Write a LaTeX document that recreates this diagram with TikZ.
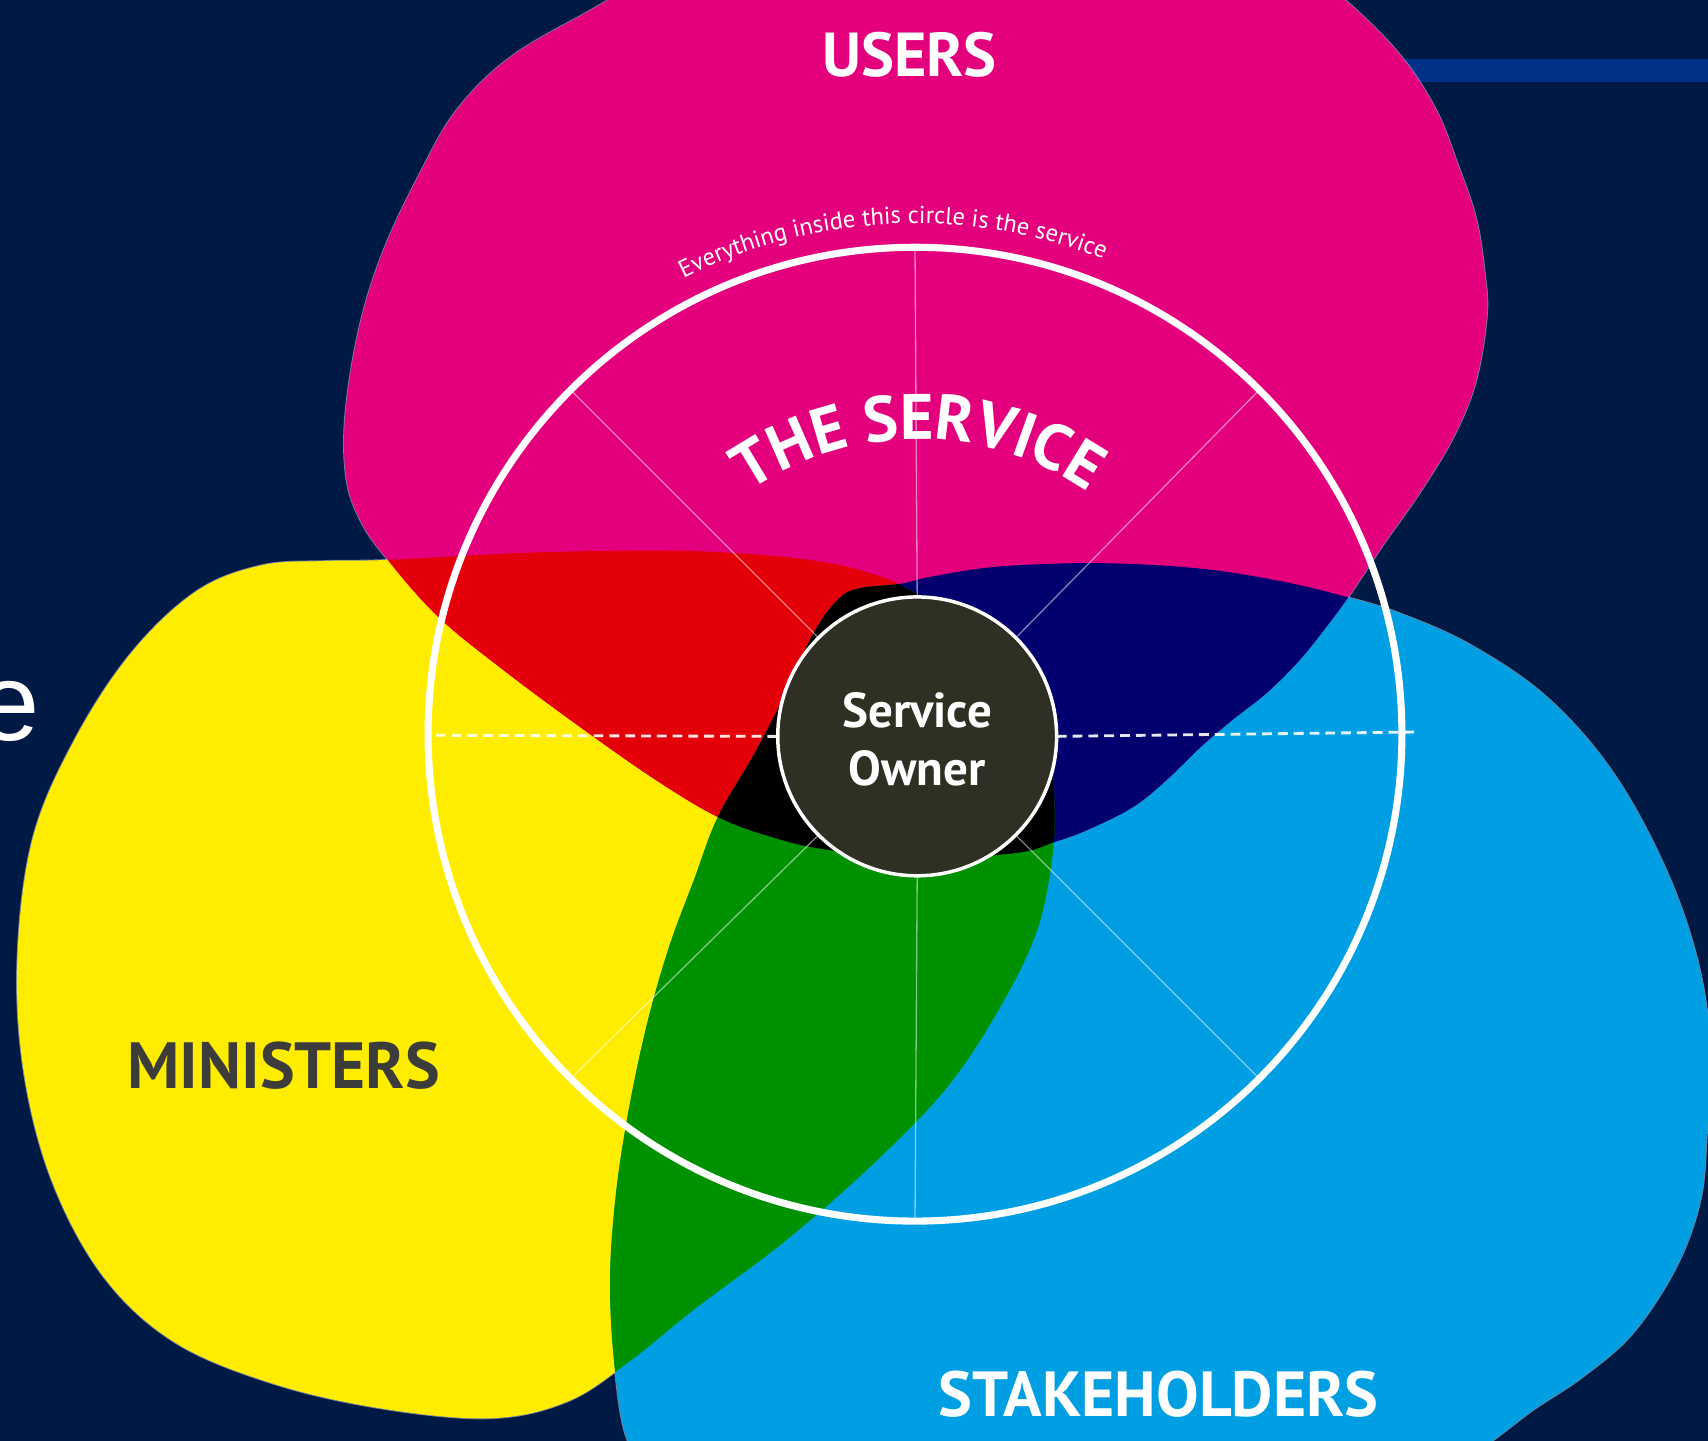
\documentclass[tikz,border=0pt]{standalone}
\usepackage{fontspec}
\usetikzlibrary{decorations.text}
\newfontfamily\ptsans{PT Sans}
\newfontfamily\arialf{Liberation Sans}
\definecolor{bgc}{HTML}{011A45}
\definecolor{barc}{HTML}{003087}
\definecolor{pinkc}{HTML}{E4007D}
\definecolor{yellowc}{HTML}{FFED00}
\definecolor{bluec}{HTML}{009FE3}
\definecolor{redc}{HTML}{E30008}
\definecolor{navyc}{HTML}{02006E}
\definecolor{greenc}{HTML}{009100}
\definecolor{blackc}{HTML}{000000}
\definecolor{ownerc}{HTML}{302F24}
\definecolor{grayc}{HTML}{3C3C3B}
\tikzset{
  blobY/.style={insert path={plot[smooth cycle, tension=0.6] coordinates {
    (300,-515) (356,-514) (497,-507) (637,-506) (743,-514) (805,-528) (838,-543)
    (880,-565) (935,-610) (962,-680) (968,-740) (965,-795) (950,-860) (915,-930)
    (868,-1000) (800,-1070) (720,-1140) (640,-1200) (575,-1252) (520,-1287)
    (450,-1302) (350,-1293) (250,-1270) (160,-1232) (95,-1172) (48,-1085)
    (22,-985) (16,-880) (30,-770) (68,-680) (120,-600) (180,-543) (240,-519)}}},
  blobP/.style={insert path={plot[smooth cycle, tension=0.6] coordinates {
    (900,75) (640,55) (558,0) (472,-50) (420,-100) (385,-160) (352,-230)
    (330,-300) (317,-380) (318,-440) (332,-480)
    (356,-514) (402,-566) (462,-615) (532,-667) (602,-716) (659,-750) (707,-768)
    (759,-780) (845,-788) (933,-783) (968,-773) (998,-762) (1040,-741)
    (1071,-716) (1102,-686) (1130,-662) (1163,-636) (1193,-606) (1218,-575)
    (1240,-545) (1270,-500) (1305,-450) (1335,-400) (1355,-350) (1365,-290)
    (1363,-250) (1355,-200) (1338,-150) (1318,-100) (1285,-50) (1235,0) (1170,50)}}},
  blobB/.style={insert path={plot[smooth cycle, tension=0.6] coordinates {
    (785,-541) (826,-536) (857,-529) (918,-520) (1010,-517) (1102,-522)
    (1178,-534) (1236,-548) (1285,-563) (1350,-592) (1420,-640) (1480,-708)
    (1528,-795) (1558,-880) (1570,-960) (1567,-1040) (1561,-1102) (1539,-1163)
    (1499,-1224) (1453,-1264) (1408,-1294) (1371,-1322) (1330,-1350)
    (900,-1370) (600,-1350) (576,-1322) (565,-1262) (560,-1180) (565,-1100)
    (577,-1020) (594,-940) (614,-870) (637,-808) (659,-750) (692,-693)
    (717,-645) (745,-585) (765,-555)}}},
  rim/.style={draw=white, draw opacity=0.45, line width=1.6pt},
  radial/.style={draw=white, draw opacity=0.5, line width=1.2pt},
  dashline/.style={draw=white, draw opacity=0.9, line width=2.6pt, dash pattern=on 9pt off 5.5pt},
  label/.style={inner sep=0pt, anchor=base, font=\ptsans\bfseries\fontsize{#1}{#1}\selectfont},
}
\begin{document}
\begin{tikzpicture}[x=1pt,y=1pt]
\useasboundingbox (0,0) rectangle (1568,-1322);
\fill[bgc] (-5,5) rectangle (1573,-1327);
\fill[barc] (1280,-54) rectangle (1573,-75);
\node[anchor=base west, inner sep=0pt, text=white, font=\arialf\fontsize{101}{110}\selectfont] (ee) at (-20,-679.5) {e};
% thin light rims (only the outer half stays visible)
\path[rim, blobY];
\path[rim, blobB];
\path[rim, blobP];
% blobs
\fill[yellowc, blobY];
\fill[bluec, blobB];
\fill[pinkc, blobP];
\begin{scope}
  \clip[blobP];
  \fill[redc, blobY];
  \fill[navyc, blobB];
\end{scope}
\begin{scope}
  \clip[blobY];
  \fill[greenc, blobB];
\end{scope}
\begin{scope}
  \clip[blobP];
  \clip[blobY];
  \fill[blackc, blobB];
\end{scope}
% circles
\node[circle, inner sep=0pt, minimum size=894pt] (svc) at (840,-674) {};
\node[circle, inner sep=0pt, minimum size=256pt] (owner) at (842,-676) {};
% radial lines
\foreach \a in {45,90,135,225,270,315} {
  \draw[radial] (owner.\a) -- (svc.\a);
}
% dashed lines
\coordinate (dl) at (400,-675);
\coordinate (dr) at (1300,-672);
\draw[dashline] (dl) -- (owner.west);
\draw[dashline] (owner.east) -- (dr);
\draw[white, line width=6.5pt] (svc.center) circle[radius=447];
\fill[ownerc] (owner.center) circle[radius=128];
\draw[white, line width=3.2pt] (owner.center) circle[radius=128];
% texts
\node[label=45, text=white] (so1) at (842,-668) {Service};
\node[label=45, text=white] (so2) at (842,-720.7) {Owner};
\node[label=57, text=white] (users) at (835,-70.5) {USERS};
\node[label=60, text=grayc] (min) at (260.5,-999) {MINISTERS};
\node[label=58.5, text=white] (stk) at (1063.5,-1300) {STAKEHOLDERS};
\path[decorate, decoration={text along path, text align=center, text color=white,
  text={|\ptsans\bfseries\fontsize{59}{62}\selectfont|THE SERVICE}}]
  (843,-676) ++(150:273) arc[start angle=150, end angle=30, radius=273];
\path[decorate, decoration={text along path, text align=center, text color=white,
  text={|\ptsans\fontsize{22.5}{26}\selectfont|Everything inside this circle is the service}}]
  (840,-674) ++(132.65:469) arc[start angle=132.65, end angle=52.65, radius=469];
\end{tikzpicture}
\end{document}
